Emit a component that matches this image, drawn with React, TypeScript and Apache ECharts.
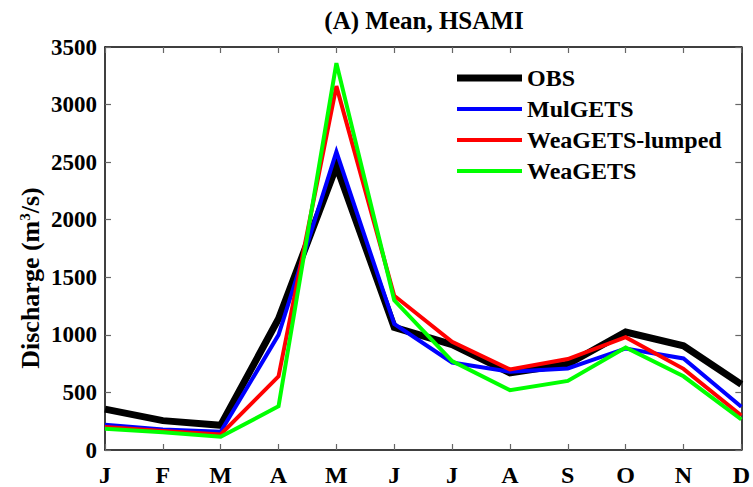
import React, { useEffect, useRef } from "react";
import * as echarts from "echarts";

// Monthly mean discharge (m³/s)
const months = ["J", "F", "M", "A", "M", "J", "J", "A", "S", "O", "N", "D"];
const obs = [355, 255, 215, 1140, 2465, 1065, 915, 670, 745, 1025, 905, 570];
const mulGets = [220, 178, 158, 1000, 2590, 1095, 760, 680, 708, 882, 795, 375];
const weaGetsLumped = [200, 165, 135, 640, 3160, 1340, 940, 700, 790, 980, 705, 300];
const weaGets = [185, 155, 115, 380, 3360, 1300, 772, 520, 600, 890, 640, 265];
const yTicks = { min: 0, max: 3500, interval: 500 };

const FONT = "'Liberation Serif', 'Times New Roman', serif";

const seriesDefs = [
  { name: "OBS", data: obs, color: "#000000", width: 7 },
  { name: "MulGETS", data: mulGets, color: "#0000ff", width: 4 },
  { name: "WeaGETS-lumped", data: weaGetsLumped, color: "#ff0000", width: 4 },
  { name: "WeaGETS", data: weaGets, color: "#00ff00", width: 4 },
];

export default function App() {
  const ref = useRef<HTMLDivElement>(null);

  useEffect(() => {
    if (!ref.current) return;
    const chart = echarts.init(ref.current, undefined, { renderer: "svg" });

    const axisCommon = {
      axisLine: { show: true, onZero: false, lineStyle: { color: "#000", width: 1.5 } },
      axisTick: { show: true, inside: true, length: 6, lineStyle: { color: "#666", width: 1.2 } },
      splitLine: { show: false },
    };

    chart.setOption({
      animation: false,
      backgroundColor: "#fff",
      textStyle: { fontFamily: FONT },
      grid: { left: 105, right: 10, top: 47, bottom: 33, containLabel: false },
      legend: {
        orient: "vertical",
        left: 457,
        top: 66,
        padding: 0,
        itemWidth: 65,
        itemHeight: 14,
        itemGap: 7,
        textStyle: {
          fontFamily: FONT,
          fontWeight: "bold",
          fontSize: 24,
          lineHeight: 24,
          color: "#000",
        },
        data: seriesDefs.map((s) => ({
          name: s.name,
          icon: `path://M0 0H65V${s.width}H0Z`,
          itemStyle: { color: s.color, borderWidth: 0 },
        })),
      },
      xAxis: [
        {
          type: "category",
          data: months,
          boundaryGap: false,
          position: "bottom",
          ...axisCommon,
          axisLabel: {
            margin: 13,
            fontFamily: FONT,
            fontWeight: "bold",
            fontSize: 24,
            color: "#000",
            interval: 0,
          },
        },
        {
          type: "category",
          data: months,
          boundaryGap: false,
          position: "top",
          ...axisCommon,
          axisLabel: { show: false },
        },
      ],
      yAxis: [
        {
          type: "value",
          ...yTicks,
          position: "left",
          ...axisCommon,
          axisLabel: {
            margin: 8,
            fontFamily: FONT,
            fontWeight: "bold",
            fontSize: 23,
            color: "#000",
            formatter: (v: number) => String(v),
          },
        },
        {
          type: "value",
          ...yTicks,
          position: "right",
          ...axisCommon,
          axisLabel: { show: false },
        },
      ],
      graphic: [
        {
          type: "text",
          x: 424,
          y: 20,
          style: {
            text: "(A) Mean, HSAMI",
            fontFamily: FONT,
            fontWeight: "bold",
            fontSize: 25,
            fill: "#000",
            align: "center",
            verticalAlign: "middle",
          },
        },
        {
          type: "text",
          x: 30,
          y: 278,
          rotation: Math.PI / 2,
          style: {
            text: "Discharge (m{sup|3}/s)",
            fontFamily: FONT,
            fontWeight: "bold",
            fontSize: 26,
            fill: "#000",
            align: "center",
            verticalAlign: "middle",
            rich: {
              sup: {
                fontFamily: FONT,
                fontWeight: "bold",
                fontSize: 15,
                verticalAlign: "top",
                lineHeight: 26,
                padding: [0, 0, 10, 0],
                fill: "#000",
              },
            },
          },
        },
      ],
      series: seriesDefs.map((s) => ({
        name: s.name,
        type: "line",
        data: s.data,
        symbol: "none",
        showSymbol: false,
        lineStyle: { color: s.color, width: s.width, join: "miter" },
        itemStyle: { color: s.color },
        z: s.name === "OBS" ? 1 : 2,
      })),
    });

    return () => chart.dispose();
  }, []);

  return <div ref={ref} style={{ width: 753, height: 487, position: "absolute", left: 0, top: 0 }} />;
}
